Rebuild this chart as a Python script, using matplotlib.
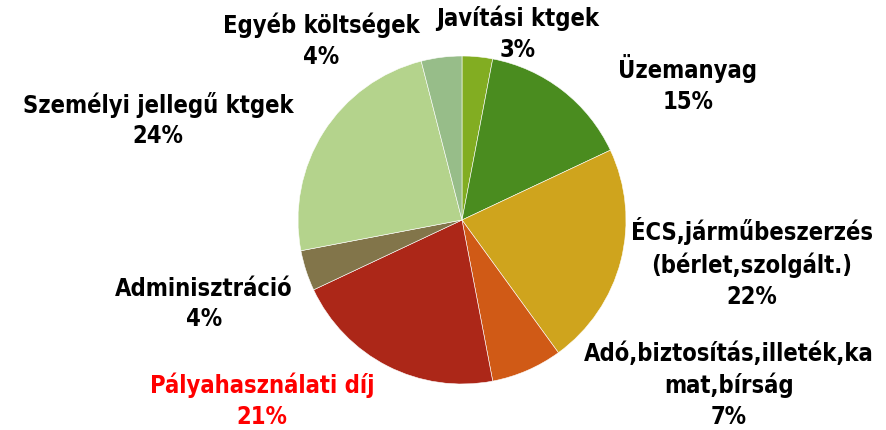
import matplotlib
matplotlib.use("Agg")
import matplotlib.pyplot as plt

LABELS = ["Javítási ktgek", "Üzemanyag", "ÉCS,járműbeszerzés\n(bérlet,szolgált.)",
          "Adó,biztosítás,illeték,ka\nmat,bírság", "Pályahasználati díj",
          "Adminisztráció", "Személyi jellegű ktgek", "Egyéb költségek"]
VALUES = [3, 15, 22, 7, 21, 4, 24, 4]
COLORS = ["#82ad22", "#4a8c1f", "#cfa41d", "#d05a16", "#ac2718", "#82754a",
          "#b4d38c", "#97bd89"]
# label block centres in pixels (layout)
LABEL_POS = [(518, 34), (688, 84), (752, 263), (729, 385), (262, 401),
             (204, 304), (158, 120), (321, 41)]
LABEL_COLORS = ["black"] * 4 + ["#ff0000"] + ["black"] * 3

W, H = 887, 430
fig = plt.figure(figsize=(W / 100, H / 100), dpi=100)
ax = fig.add_axes([0, 0, 1, 1])

ax.pie(VALUES, colors=COLORS, startangle=90, counterclock=False,
       center=(462, H - 220), radius=164,
       wedgeprops=dict(edgecolor="white", linewidth=0.4))
ax.set_xlim(0, W)
ax.set_ylim(0, H)
ax.set_aspect("auto")
ax.axis("off")

for lab, v, (px, py), c in zip(LABELS, VALUES, LABEL_POS, LABEL_COLORS):
    ax.text(px, H - py, f"{lab}\n{v}%", ha="center", va="center",
            fontsize=17, fontweight="bold", color=c, linespacing=1.35,
            family="DejaVu Sans", fontstretch="condensed")

fig.savefig("out.png", dpi=100)
